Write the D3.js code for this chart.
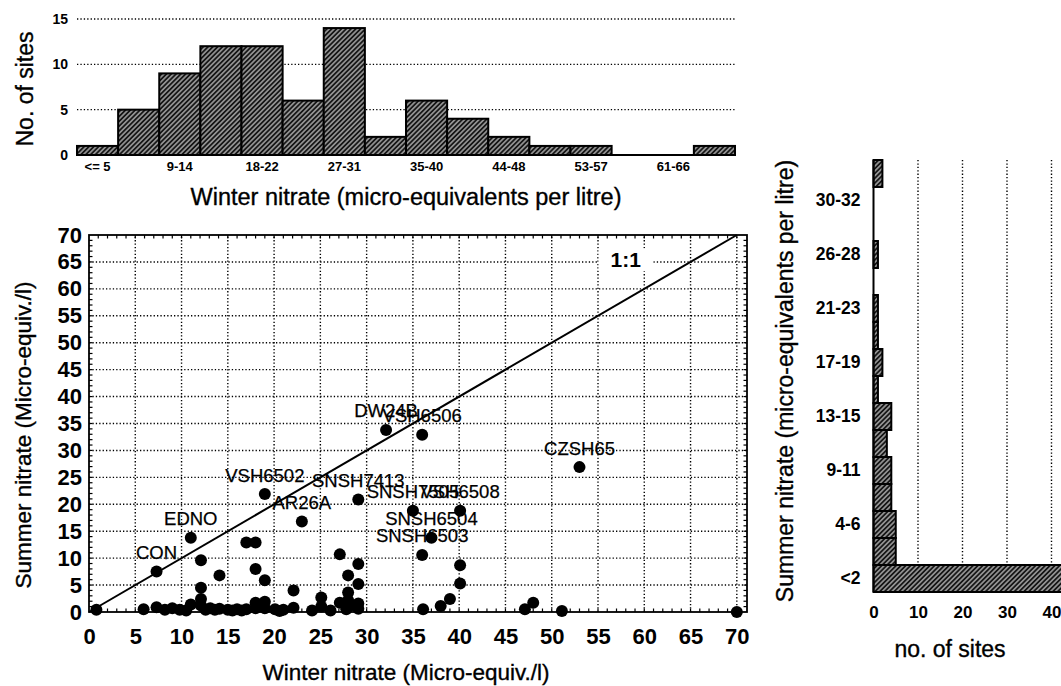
<!DOCTYPE html>
<html>
<head>
<meta charset="utf-8">
<script src="https://cdn.jsdelivr.net/npm/d3@7"></script>
<style>
  body { margin: 0; background: #fff; }
  svg { display: block; font-family: "Liberation Sans", Arial, sans-serif; }
  .grid line { stroke: #000; stroke-width: 1.4; stroke-dasharray: 1.3 2.1; }
  .title { stroke: #000; stroke-width: 0.35; }
</style>
</head>
<body>
<svg id="chart" width="1061" height="686"></svg>
<script>
// winter nitrate histogram (top)
var winterBins = ["<= 5", "5-9", "9-14", "14-18", "18-22", "22-27", "27-31", "31-35",
  "35-40", "40-44", "44-48", "48-53", "53-57", "57-61", "61-66", "> 66"]
var winterCounts = [1, 5, 9, 12, 12, 6, 14, 2, 6, 4, 2, 1, 1, 0, 0, 1]
var winterTickLabels = ["<= 5", "9-14", "18-22", "27-31", "35-40", "44-48", "53-57", "61-66"]
var countTicks = [0, 5, 10, 15]

// summer nitrate histogram (right), bottom bin first
var summerBins = ["<2", "2-4", "4-6", "6-9", "9-11", "11-13", "13-15", "15-17",
  "17-19", "19-21", "21-23", "23-26", "26-28", "28-30", "30-32", "> 32"]
var summerCounts = [43, 5, 5, 4, 4, 3, 4, 1, 2, 1, 1, 0, 1, 0, 0, 2]
var summerTickLabels = ["<2", "4-6", "9-11", "13-15", "17-19", "21-23", "26-28", "30-32"]
var siteTicks = [0, 10, 20, 30, 40]

// scatter: winter vs summer nitrate per site
var siteWinter = [0.8, 5.9, 7.3, 7.3, 8.2, 9.0, 9.8, 10.5, 11.0, 11.0, 12.1, 12.1, 12.1, 12.1,
  12.6, 13.1, 13.6, 14.1, 14.1, 15.0, 15.5, 16.0, 16.5, 17.0, 18.0, 18.0, 19.0, 19.0,
  17.0, 18.0, 18.0, 19.0, 19.0, 20.1, 20.6, 21.0, 22.1, 22.1, 23.0, 24.1, 25.1, 25.1,
  26.1, 27.1, 27.1, 28.0, 28.0, 28.0, 28.0, 29.1, 29.1, 29.1, 29.1, 29.1, 27.8,
  32.1, 36.0, 35.0, 40.1, 37.0, 36.0, 40.1, 40.1, 39.0, 38.0, 36.1, 47.1, 48.0, 51.1, 53.0, 70.0]
var siteSummer = [0.4, 0.5, 7.5, 0.9, 0.4, 0.7, 0.4, 0.3, 13.8, 1.4, 9.6, 4.5, 2.4, 1.2,
  0.4, 0.7, 0.4, 6.8, 0.6, 0.4, 0.3, 0.5, 0.3, 12.9, 12.9, 8.0, 5.9, 21.9,
  0.5, 1.7, 0.7, 1.9, 0.7, 0.5, 0.2, 0.4, 4.0, 0.8, 16.8, 0.3, 2.7, 1.0,
  0.3, 10.7, 1.7, 6.8, 3.6, 2.2, 0.9, 8.9, 5.2, 1.6, 0.6, 20.9, 0.5,
  33.8, 32.9, 18.8, 18.8, 13.8, 10.6, 8.7, 5.3, 2.4, 1.1, 0.5, 0.5, 1.7, 0.2, 26.9, 0.0]
var siteName = ["", "", "CON", "", "", "", "", "", "EDNO", "", "", "", "", "",
  "", "", "", "", "", "", "", "", "", "", "", "", "", "VSH6502",
  "", "", "", "", "", "", "", "", "", "", "AR26A", "", "", "",
  "", "", "", "", "", "", "", "", "", "", "", "SNSH7413", "",
  "DW24B", "VSH6506", "SNSH7505", "VSH6508", "SNSH6504", "SNSH6503", "", "", "", "", "", "", "", "", "CZSH65", ""]
var nitrateTicks = [0, 5, 10, 15, 20, 25, 30, 35, 40, 45, 50, 55, 60, 65, 70]
var oneToOne = [0, 70]

var svg = d3.select("#chart")

var defs = svg.append("defs")
var hatch = defs.append("pattern")
  .attr("id", "hatch")
  .attr("patternUnits", "userSpaceOnUse")
  .attr("width", 3.4)
  .attr("height", 3.4)
  .attr("patternTransform", "rotate(45)")
hatch.append("rect").attr("width", 3.4).attr("height", 3.4).attr("fill", "#161616")
hatch.append("line")
  .attr("x1", 1.7).attr("x2", 1.7).attr("y1", 0).attr("y2", 3.4)
  .attr("stroke", "#fff").attr("stroke-width", 0.9)

function styleAxis(g, size) {
  g.attr("font-size", size).attr("font-family", null).attr("font-weight", "bold")
  g.select(".domain").remove()
  g.selectAll("text").attr("fill", "#000")
}

// ---------- top histogram ----------
function renderWinterHist() {
  var x = d3.scaleBand().domain(winterBins).range([77, 735]).padding(0)
  var y = d3.scaleLinear().domain([0, 15]).range([155, 19])

  svg.append("g").attr("class", "grid")
    .selectAll("line")
    .data(countTicks.filter(function(d) { return d > 0 }))
    .enter().append("line")
    .attr("x1", x.range()[0])
    .attr("x2", x.range()[1])
    .attr("y1", function(d) { return y(d) })
    .attr("y2", function(d) { return y(d) })

  svg.append("g")
    .selectAll("rect")
    .data(winterCounts)
    .enter().append("rect")
    .attr("x", function(d, i) { return x(winterBins[i]) })
    .attr("y", function(d) { return y(d) })
    .attr("width", x.bandwidth())
    .attr("height", function(d) { return y(0) - y(d) })
    .attr("fill", "url(#hatch)")
    .attr("stroke", "#000")
    .attr("stroke-width", 2)

  svg.append("line")
    .attr("x1", x.range()[0]).attr("x2", x.range()[1])
    .attr("y1", y(0)).attr("y2", y(0))
    .attr("stroke", "#000").attr("stroke-width", 2)

  var xa = svg.append("g")
    .attr("transform", "translate(0," + y(0) + ")")
    .call(d3.axisBottom(x).tickValues(winterTickLabels).tickSize(0).tickPadding(7))
  styleAxis(xa, 13)

  var ya = svg.append("g")
    .attr("transform", "translate(" + x.range()[0] + ",0)")
    .call(d3.axisLeft(y).tickValues(countTicks).tickSize(0).tickPadding(9))
  styleAxis(ya, 14)

  svg.append("text")
    .attr("class", "title")
    .attr("transform", "translate(33,89) rotate(-90)")
    .attr("text-anchor", "middle")
    .attr("font-size", 23)
    .text("No. of sites")

  svg.append("text")
    .attr("class", "title")
    .attr("x", 406).attr("y", 205)
    .attr("text-anchor", "middle")
    .attr("font-size", 23.5)
    .text("Winter nitrate (micro-equivalents per litre)")
}

// ---------- scatter ----------
function renderScatter() {
  var x = d3.scaleLinear().domain([0, 71.1]).range([89, 747])
  var y = d3.scaleLinear().domain([0, 70]).range([612, 235])
  var xMax = x.domain()[1]
  var yMax = y.domain()[1]

  var grid = svg.append("g").attr("class", "grid")
  grid.selectAll(".v")
    .data(nitrateTicks.filter(function(d) { return d > 0 }))
    .enter().append("line")
    .attr("x1", function(d) { return x(d) })
    .attr("x2", function(d) { return x(d) })
    .attr("y1", y(0)).attr("y2", y(yMax))
  grid.selectAll(".h")
    .data(nitrateTicks.filter(function(d) { return d > 0 && d < yMax }))
    .enter().append("line")
    .attr("x1", x(0)).attr("x2", x(xMax))
    .attr("y1", function(d) { return y(d) })
    .attr("y2", function(d) { return y(d) })

  // minor ticks, inward on all four sides
  var minor = svg.append("g").attr("stroke", "#000").attr("stroke-width", 1.2)
  d3.range(1, 71).forEach(function(v) {
    minor.append("line").attr("x1", x(v)).attr("x2", x(v)).attr("y1", y(0)).attr("y2", y(0) - 3.5)
    minor.append("line").attr("x1", x(v)).attr("x2", x(v)).attr("y1", y(yMax)).attr("y2", y(yMax) + 3.5)
  })
  d3.range(1, 70).forEach(function(v) {
    minor.append("line").attr("x1", x(0)).attr("x2", x(0) + 3.5).attr("y1", y(v)).attr("y2", y(v))
    minor.append("line").attr("x1", x(xMax)).attr("x2", x(xMax) - 3.5).attr("y1", y(v)).attr("y2", y(v))
  })

  svg.append("rect")
    .attr("x", x(0)).attr("y", y(yMax))
    .attr("width", x(xMax) - x(0))
    .attr("height", y(0) - y(yMax))
    .attr("fill", "none")
    .attr("stroke", "#000")
    .attr("stroke-width", 1.8)

  svg.append("line")
    .attr("x1", x(oneToOne[0])).attr("y1", y(oneToOne[0]))
    .attr("x2", x(oneToOne[1])).attr("y2", y(oneToOne[1]))
    .attr("stroke", "#000").attr("stroke-width", 2)

  var lab = svg.append("text")
    .attr("x", x(58)).attr("y", y(65.4))
    .attr("dy", "0.36em")
    .attr("text-anchor", "middle")
    .attr("font-size", 21)
    .attr("font-weight", "bold")
    .text("1:1")
  var bb = lab.node().getBBox()
  svg.insert("rect", function() { return lab.node() })
    .attr("x", bb.x - 12).attr("y", bb.y)
    .attr("width", bb.width + 24).attr("height", bb.height)
    .attr("fill", "#fff")

  var sites = siteWinter.map(function(w, i) {
    return { winter: w, summer: siteSummer[i], name: siteName[i] }
  })

  svg.append("g")
    .selectAll("circle")
    .data(sites)
    .enter().append("circle")
    .attr("cx", function(d) { return x(d.winter) })
    .attr("cy", function(d) { return y(d.summer) })
    .attr("r", 6)
    .attr("fill", "#000")

  svg.append("g")
    .selectAll("text")
    .data(sites.filter(function(d) { return d.name !== "" }))
    .enter().append("text")
    .attr("x", function(d) { return x(d.winter) })
    .attr("y", function(d) { return y(d.summer) - 12.5 })
    .attr("text-anchor", "middle")
    .attr("font-size", 18.5)
    .attr("stroke", "#000")
    .attr("stroke-width", 0.25)
    .text(function(d) { return d.name })

  var xa = svg.append("g")
    .attr("transform", "translate(0," + y(0) + ")")
    .call(d3.axisBottom(x).tickValues(nitrateTicks).tickSize(0).tickPadding(16))
  styleAxis(xa, 22)

  var ya = svg.append("g")
    .attr("transform", "translate(" + x(0) + ",0)")
    .call(d3.axisLeft(y).tickValues(nitrateTicks).tickSize(0).tickPadding(7))
  styleAxis(ya, 22)

  svg.append("text")
    .attr("class", "title")
    .attr("x", 406).attr("y", 680)
    .attr("text-anchor", "middle")
    .attr("font-size", 22.5)
    .text("Winter nitrate (Micro-equiv./l)")

  svg.append("text")
    .attr("class", "title")
    .attr("transform", "translate(31,435) rotate(-90)")
    .attr("text-anchor", "middle")
    .attr("font-size", 22.5)
    .text("Summer nitrate (Micro-equiv./l)")
}

// ---------- right histogram ----------
function renderSummerHist() {
  var y = d3.scaleBand().domain(summerBins).range([592, 160]).padding(0)
  var x = d3.scaleLinear().domain([0, 50]).range([873.5, 1096])

  var bins = summerBins.map(function(b, i) { return { bin: b, count: summerCounts[i] } })

  svg.append("g").attr("class", "grid")
    .selectAll("line")
    .data(siteTicks.filter(function(d) { return d > 0 }))
    .enter().append("line")
    .attr("x1", function(d) { return x(d) })
    .attr("x2", function(d) { return x(d) })
    .attr("y1", y.range()[1]).attr("y2", y.range()[0])

  svg.append("g")
    .selectAll("rect")
    .data(bins.filter(function(d) { return d.count > 0 }))
    .enter().append("rect")
    .attr("x", x(0))
    .attr("y", function(d) { return y(d.bin) })
    .attr("width", function(d) { return x(d.count) - x(0) })
    .attr("height", y.bandwidth())
    .attr("fill", "url(#hatch)")
    .attr("stroke", "#000")
    .attr("stroke-width", 2)

  svg.append("line")
    .attr("x1", x(0)).attr("x2", x(0))
    .attr("y1", y.range()[1]).attr("y2", y.range()[0])
    .attr("stroke", "#000").attr("stroke-width", 2)

  var ya = svg.append("g")
    .attr("transform", "translate(" + x(0) + ",0)")
    .call(d3.axisLeft(y).tickValues(summerTickLabels).tickSize(0).tickPadding(13))
  styleAxis(ya, 17.5)

  var xa = svg.append("g")
    .attr("transform", "translate(0," + y.range()[0] + ")")
    .call(d3.axisBottom(x).tickValues(siteTicks).tickSize(0).tickPadding(14))
  styleAxis(xa, 17)

  svg.append("text")
    .attr("class", "title")
    .attr("x", 950).attr("y", 657)
    .attr("text-anchor", "middle")
    .attr("font-size", 23)
    .text("no. of sites")

  svg.append("text")
    .attr("class", "title")
    .attr("transform", "translate(793,381) rotate(-90)")
    .attr("text-anchor", "middle")
    .attr("font-size", 23)
    .text("Summer nitrate (micro-equivalents per litre)")
}

renderWinterHist()
renderScatter()
renderSummerHist()
</script>
</body>
</html>
